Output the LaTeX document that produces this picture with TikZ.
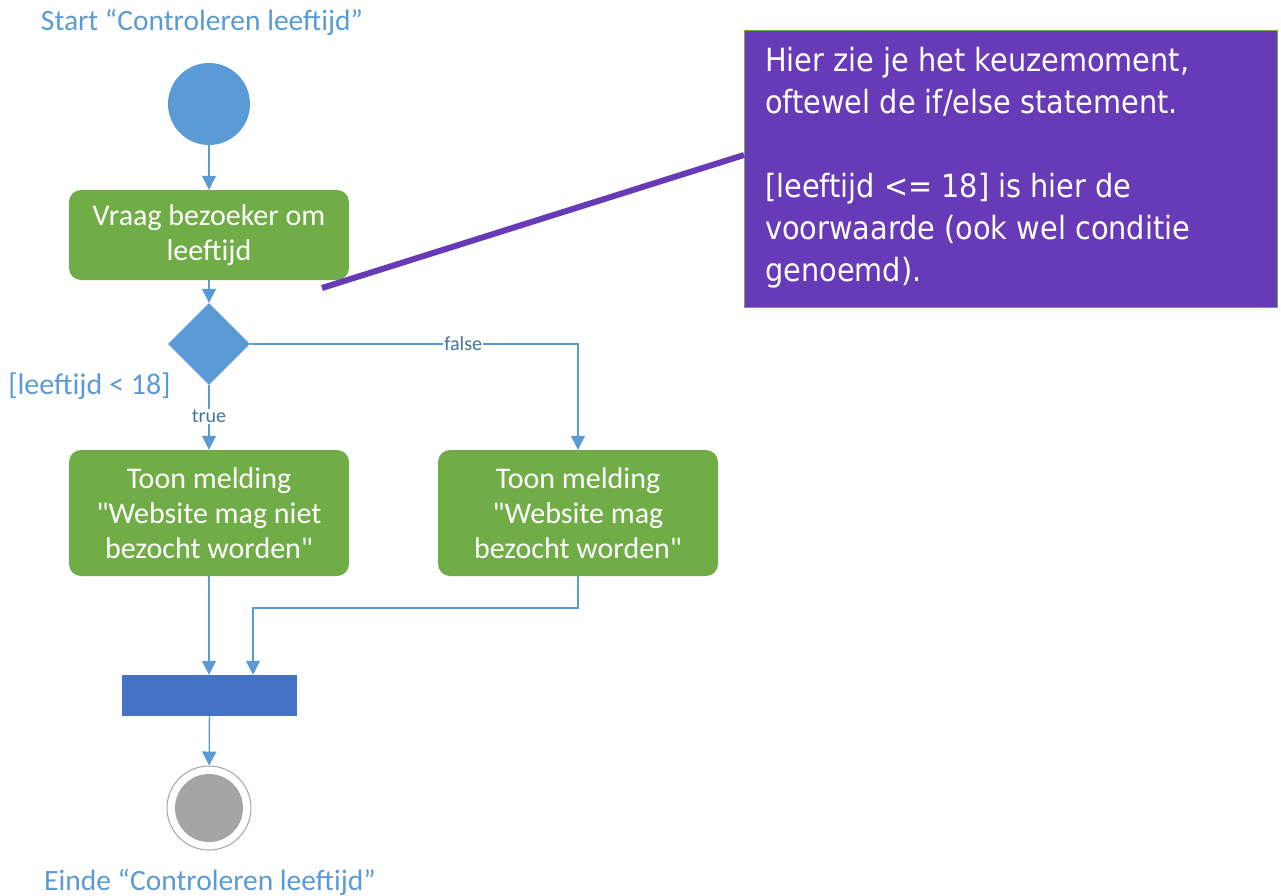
\documentclass[tikz,border=0pt]{standalone}
\usepackage{fontspec}
\setmainfont{Carlito}
\newfontfamily\callfont{DejaVu Sans Condensed}
\usetikzlibrary{arrows.meta,shapes.geometric}
\definecolor{ublue}{HTML}{5B9BD5}
\definecolor{ugreen}{HTML}{70AD47}
\definecolor{ubar}{HTML}{4472C4}
\definecolor{upurple}{HTML}{673AB7}
\definecolor{ugray}{HTML}{A5A5A5}
\definecolor{ulabel}{HTML}{44729E}
\tikzset{
  actbox/.style={draw=none, fill=ugreen, rounded corners=12, minimum width=280, minimum height=#1, text=white, align=center, font=\fontsize{30}{35}\selectfont, inner sep=0},
  flow/.style={draw=ublue, line width=1.3, -{Triangle[width=14,length=14]}},
  guard/.style={text=ulabel, font=\fontsize{20}{22}\selectfont, fill=white, inner sep=1},
  blue title/.style={text=ublue, font=\fontsize{29.5}{32}\selectfont}
}
\begin{document}
\begin{tikzpicture}[x=1pt,y=-1pt]
\useasboundingbox (0,0) rectangle (1281,895);
% titles
\node[blue title] (tstart) at (202,22) {Start “Controleren leeftijd”};
\node[blue title] (tend) at (210,882) {Einde “Controleren leeftijd”};
% start
\node[circle, fill=ublue, minimum size=82, inner sep=0] (start) at (209,104) {};
\node[actbox=90] (ask) at (209,235) {Vraag bezoeker om\\leeftijd};
\node[diamond, fill=ublue, minimum width=82, minimum height=82, inner sep=0] (dec) at (209,344) {};
\node[text=ublue, font=\fontsize{30}{32}\selectfont, anchor=east] (cond) at (174,386) {[leeftijd < 18]};
\node[actbox=126] (no) at (209,513) {Toon melding\\\textquotedbl Website mag niet\\bezocht worden\textquotedbl};
\node[actbox=126] (yes) at (578,513) {Toon melding\\\textquotedbl Website mag\\bezocht worden\textquotedbl};
\node[fill=ubar, minimum width=175, minimum height=41, inner sep=0] (bar) at (209.5,695.5) {};
\node[circle, draw=ugray, line width=1, fill=white, minimum size=84, inner sep=0] (end) at (209,808) {};
\node[circle, fill=ugray, minimum size=68, inner sep=0] (endin) at (209,808) {};
% flows
\draw[flow] (start) -- (ask);
\draw[flow] (ask) -- (dec);
\draw[flow] (dec) -- node[guard, pos=0.48] (ltrue) {true} (no);
\draw[flow] (dec.east) -- node[guard, pos=0.65] (lfalse) {false} (dec.east -| yes.north) -- (yes.north);
\draw[flow] (no) -- (no.south |- bar.north);
\coordinate (j1) at (578,608);
\coordinate (j2) at (253,608);
\draw[flow] (yes.south) -- (j1) -- (j2) -- (j2 |- bar.north);
\draw[flow] (bar) -- (end);
% callout
\node[draw=ugreen, line width=1.2, fill=upurple, minimum width=533, minimum height=277, anchor=north west, inner sep=0] (note) at (744,30) {};
\node[anchor=north west, text=white, align=left, font=\callfont\fontsize{32}{42}\selectfont, inner sep=0] (notetext) at (765,47) {Hier zie je het keuzemoment,\\oftewel de if/else statement.\\[42pt][leeftijd <= 18] is hier de\\voorwaarde (ook wel conditie\\genoemd).};
\coordinate (ptr) at (322,288);
\draw[upurple, line width=6] (ptr) -- (note.west |- 0,155);
\end{tikzpicture}
\end{document}
